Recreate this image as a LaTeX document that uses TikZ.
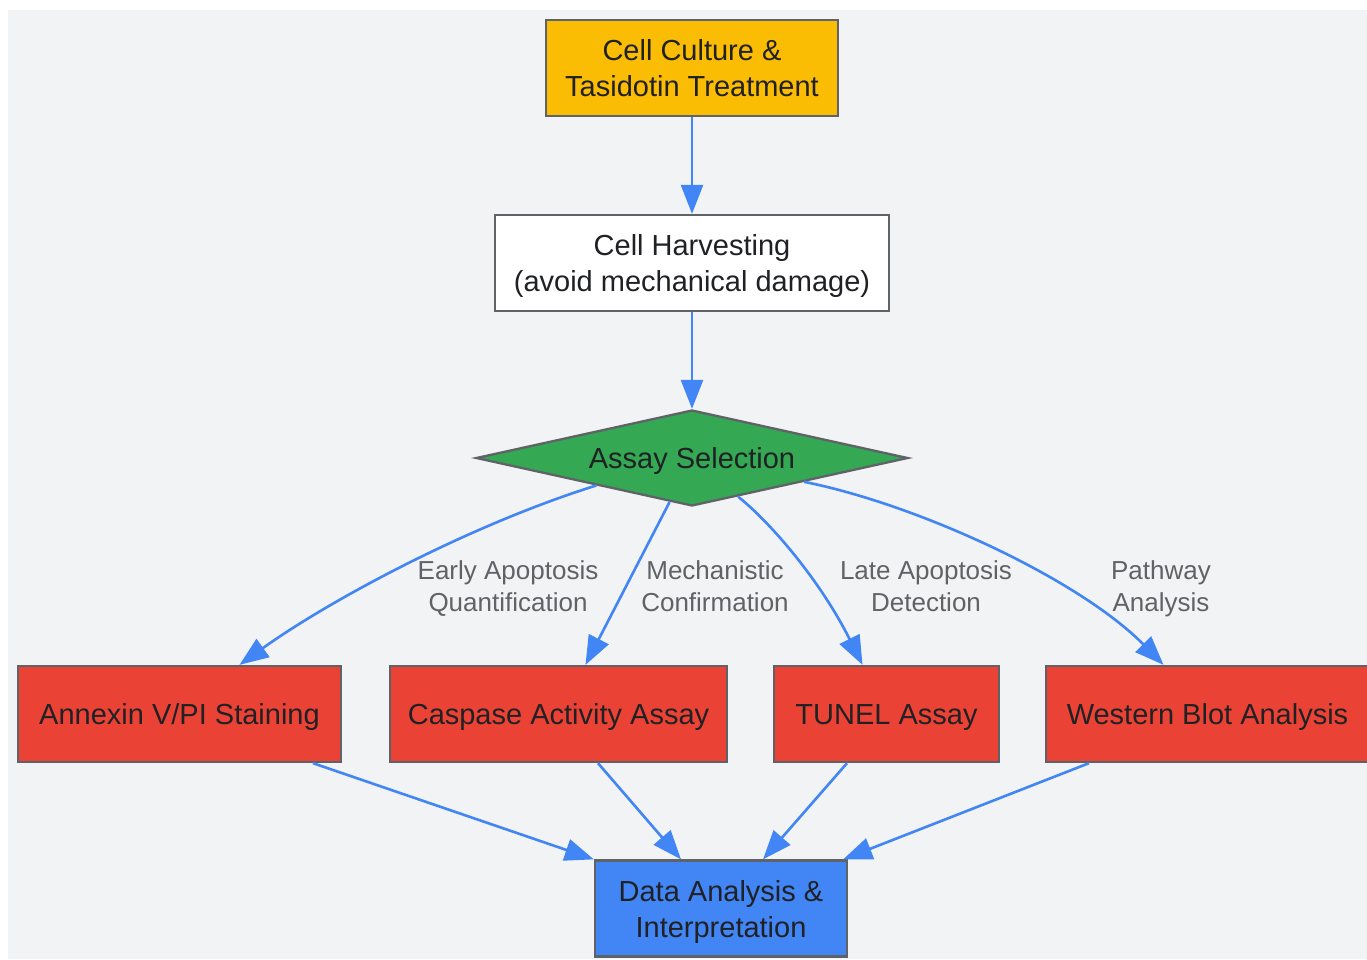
\documentclass[tikz,border=0pt]{standalone}
\usepackage{fontspec}
\setmainfont{Liberation Sans}
\usetikzlibrary{shapes.geometric,arrows.meta}
\definecolor{bgc}{HTML}{F1F3F4}
\definecolor{rim}{HTML}{5F6368}
\definecolor{ink}{HTML}{202124}
\definecolor{gblue}{HTML}{4285F4}
\definecolor{gred}{HTML}{EA4335}
\definecolor{ggreen}{HTML}{34A853}
\definecolor{gyellow}{HTML}{FBBC04}

\begin{document}
\begin{tikzpicture}[x=1pt,y=-1pt,
	box/.style={draw=rim,line width=2.3pt,minimum height=96pt,inner sep=0pt,align=center,text=ink,font=\fontsize{29}{36}\selectfont},
	one/.style={text height=24pt,text depth=3pt},
	two/.style={text height=60pt,text depth=3pt},
	flow/.style={draw=gblue,line width=2.6pt,-{Triangle[length=29pt,width=22pt]},gblue},
	lbl/.style={text=rim,align=center,anchor=base,font=\fontsize{26}{32}\selectfont}]
	\useasboundingbox (0,0) rectangle (1367,959);
	\fill[bgc] (8,10) rectangle (1367,959);
	% nodes
	\node[box,two,fill=gyellow,minimum width=292pt] (culture) at (692,68) {Cell Culture \&\\Tasidotin Treatment};
	\node[box,two,fill=white,minimum width=394pt] (harvest) at (692,263) {Cell Harvesting\\(avoid mechanical damage)};
	\node[box,one,diamond,aspect=4.5,fill=ggreen,minimum width=432pt,minimum height=96pt] (select) at (692,458) {Assay Selection};
	\node[box,one,fill=gred,minimum width=323pt] (annexin) at (179.5,714) {Annexin V/PI Staining};
	\node[box,one,fill=gred,minimum width=337pt] (caspase) at (558.5,714) {Caspase Activity Assay};
	\node[box,one,fill=gred,minimum width=225pt] (tunel) at (886.5,714) {TUNEL Assay};
	\node[box,one,fill=gred,minimum width=323pt] (western) at (1207.5,714) {Western Blot Analysis};
	\node[box,two,fill=gblue,minimum width=252pt] (data) at (721,908.5) {Data Analysis \&\\Interpretation};
	% labels
	\node[lbl] (lannexin) at (508,611) {Early Apoptosis\\Quantification};
	\node[lbl] (lcaspase) at (715,611) {Mechanistic\\Confirmation};
	\node[lbl] (ltunel) at (926,611) {Late Apoptosis\\Detection};
	\node[lbl] (lwestern) at (1161,611) {Pathway\\Analysis};
	% connectors
	\draw[flow] (culture) -- (harvest);
	\draw[flow] (harvest) -- (select);
	\draw[flow] (select.196.6) .. controls (470,525) and (330,600) .. ([xshift=60pt]annexin.north);
	\draw[flow] (select.243.4) -- ([xshift=27pt]caspase.north);
	\draw[flow] (select.320.4) .. controls (770,522) and (820,580) .. ([xshift=-24pt]tunel.north);
	\draw[flow] (select.348.8) .. controls (920,505) and (1080,580) .. ([xshift=-44pt]western.north);
	\draw[flow] ([xshift=133.5pt]annexin.south) -- (data.north west);
	\draw[flow] ([xshift=39.5pt]caspase.south) -- ([xshift=-40pt]data.north);
	\draw[flow] ([xshift=-39.5pt]tunel.south) -- ([xshift=42pt]data.north);
	\draw[flow] ([xshift=-118.5pt]western.south) -- ([xshift=-5pt]data.north east);
\end{tikzpicture}
\end{document}
